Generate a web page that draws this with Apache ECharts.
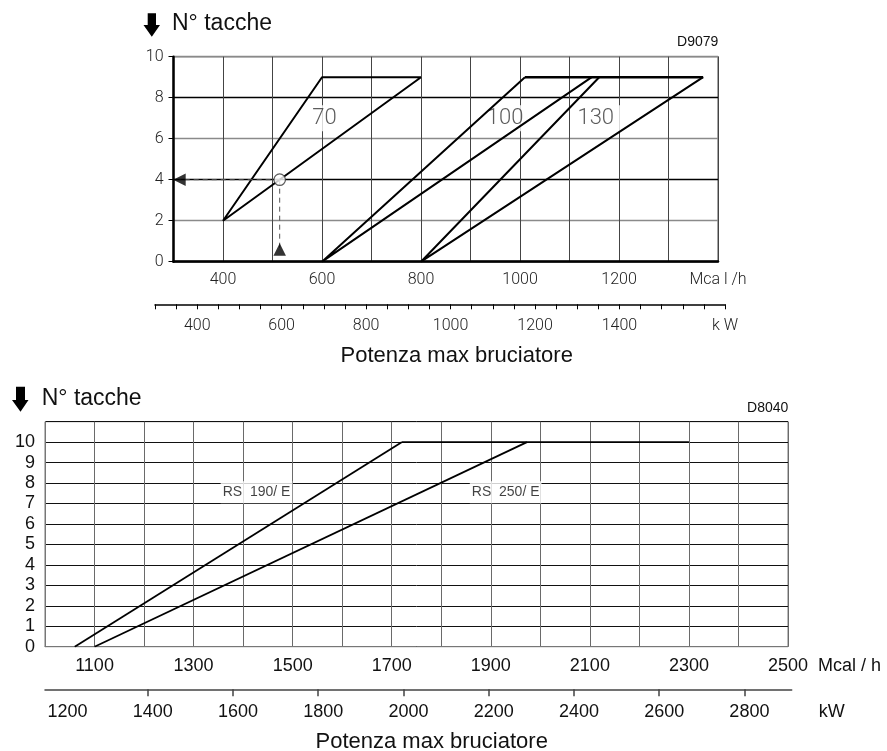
<!DOCTYPE html>
<html>
<head>
<meta charset="utf-8">
<script src="https://cdn.jsdelivr.net/npm/echarts@6/dist/echarts.min.js"></script>
<style>
html,body{margin:0;padding:0;background:#fff;}
#chart{width:887px;height:751px;}
</style>
</head>
<body>
<div id="chart"></div>
<script>
// ---------- data ----------
// top diagram: x = Mcal/h, y = N° tacche
const topCurve70   = [[800, 9], [600, 9], [400, 2], [800, 9]];
const topCurve100  = [[1145, 9], [600, 0], [1010, 9]];
const topCurve130  = [[1160, 9], [800, 0], [1370, 9]];
const topPlateau   = [[1010, 9], [1370, 9]];
const exampleHoriz = [[514.5, 4], [312, 4]];
const exampleVert  = [[514.5, 4], [514.5, 0.6]];
const examplePoint = [514.5, 4];
const exampleArrows = [[312, 4, 90], [514.5, 0.6, 0]];
const topCurveLabels = [['70', 605, 7, 8], ['100', 970, 7, 3], ['130', 1153, 7, 6]];
const topMcalLabels = [400, 600, 800, 1000, 1200];
const topKwLabels = [400, 600, 800, 1000, 1200, 1400];
const topYLabels = [0, 2, 4, 6, 8, 10];

// bottom diagram
const bottomRS190   = [[1060, 0], [1720, 10]];
const bottomRS250   = [[1100, 0], [1973, 10]];
const bottomPlateau = [[1720, 10], [2300, 10]];
const bottomCurveLabels = [['RS  190/ E', 1427, 7.55], ['RS  250/ E', 1930, 7.55]];
const bottomMcalLabels = [1100, 1300, 1500, 1700, 1900, 2100, 2300, 2500];
const bottomKwTicks  = [1400, 1600, 1800, 2000, 2200, 2400, 2600, 2800];
const bottomKwLabels = [1200, 1400, 1600, 1800, 2000, 2200, 2400, 2600, 2800];
const bottomYLabels = [0, 1, 2, 3, 4, 5, 6, 7, 8, 9, 10];

// ---------- chart ----------
const thin = {fontFamily: 'Roboto', fontWeight: 300, color: '#222'};
const arial = {fontFamily: 'Liberation Sans, Arial, sans-serif', color: '#111'};

function lineSeries(data, x, y, width, extra) {
  return Object.assign({
    type: 'line', xAxisIndex: x, yAxisIndex: y, data: data,
    symbol: 'none', silent: true, z: 4,
    lineStyle: {color: '#000', width: width}
  }, extra || {});
}

const chart = echarts.init(document.getElementById('chart'), null, {renderer: 'canvas'});
const option = {
  animation: false,
  backgroundColor: '#fff',
  grid: [
    {left: 173.5, top: 56.7, width: 544.5, height: 205, show: true, borderColor: '#888', borderWidth: 1.5},
    {left: 155, top: 303.3, width: 570, height: 1},
    {left: 45, top: 421.7, width: 743, height: 225, show: true, borderColor: '#777', borderWidth: 1},
    {left: 45, top: 688.3, width: 746.7, height: 1}
  ],
  xAxis: [
    {
      gridIndex: 0, type: 'value', min: 300, max: 1400, interval: 100,
      axisLine: {show: true, onZero: false, lineStyle: {color: '#000', width: 2.5}},
      axisTick: {show: false},
      axisLabel: Object.assign({fontSize: 16, margin: 10,
        formatter: v => v === 1400 ? 'Mca l /h' : (topMcalLabels.includes(v) ? String(v) : '')}, thin),
      splitLine: {show: true, lineStyle: {color: '#444', width: 1}}
    },
    {
      gridIndex: 1, type: 'value', min: 300, max: 1650, interval: 50,
      axisLine: {show: true, onZero: false, lineStyle: {color: '#000', width: 1.5}},
      axisTick: {show: true, length: 5, lineStyle: {color: '#000', width: 1}},
      axisLabel: Object.assign({fontSize: 16, margin: 14,
        formatter: v => v === 1650 ? 'k W' : (topKwLabels.includes(v) ? String(v) : '')}, thin),
      splitLine: {show: false}
    },
    {
      gridIndex: 2, type: 'value', min: 1000, max: 2500, interval: 100,
      axisLine: {show: true, onZero: false, lineStyle: {color: '#777', width: 1}},
      axisTick: {show: false},
      axisLabel: Object.assign({fontSize: 18, margin: 10,
        formatter: v => bottomMcalLabels.includes(v) ? String(v) : ''}, arial),
      splitLine: {show: true, lineStyle: {color: '#6a6a6a', width: 1}},
      name: 'Mcal / h', nameLocation: 'end', nameGap: 30,
      nameTextStyle: Object.assign({fontSize: 18, verticalAlign: 'top', padding: [10, 0, 0, 0]}, arial)
    },
    {
      gridIndex: 3, type: 'value', min: 1159, max: 2911,
      axisLine: {show: true, onZero: false, lineStyle: {color: '#444', width: 1.5}},
      axisTick: {show: true, length: 7, customValues: bottomKwTicks, lineStyle: {color: '#444', width: 1.5}},
      axisLabel: Object.assign({fontSize: 18, margin: 14, customValues: bottomKwLabels,
        padding: [0, 0, 0, 10], formatter: v => String(v)}, arial),
      splitLine: {show: false},
      name: 'kW', nameLocation: 'end', nameGap: 27,
      nameTextStyle: Object.assign({fontSize: 18, verticalAlign: 'top', padding: [14, 0, 0, 0]}, arial)
    }
  ],
  yAxis: [
    {
      gridIndex: 0, type: 'value', min: 0, max: 10, interval: 1,
      axisLine: {show: true, onZero: false, lineStyle: {color: '#000', width: 2.5}},
      axisTick: {show: true, length: 5, customValues: topYLabels, lineStyle: {color: '#000', width: 1}},
      axisLabel: Object.assign({fontSize: 16, margin: 10,
        formatter: v => topYLabels.includes(v) ? String(v) : ''}, thin),
      splitLine: {show: true, lineStyle: {color: ['#000', '#8a8a8a'], width: 1.4}}
    },
    {gridIndex: 1, type: 'value', min: 0, max: 1, show: false},
    {
      gridIndex: 2, type: 'value', min: 0, max: 11, interval: 1,
      axisLine: {show: true, onZero: false, lineStyle: {color: '#777', width: 1}},
      axisTick: {show: false},
      axisLabel: Object.assign({fontSize: 18, margin: 10,
        formatter: v => bottomYLabels.includes(v) ? String(v) : ''}, arial),
      splitLine: {show: true, lineStyle: {color: '#111', width: 1}}
    },
    {gridIndex: 3, type: 'value', min: 0, max: 1, show: false}
  ],
  series: [
    lineSeries(topCurve70, 0, 0, 2),
    lineSeries(topCurve100, 0, 0, 2),
    lineSeries(topCurve130, 0, 0, 2),
    lineSeries(topPlateau, 0, 0, 2.5),
    lineSeries(exampleHoriz, 0, 0, 1, {lineStyle: {color: '#555', width: 1, type: [5, 4]}}),
    lineSeries(exampleVert, 0, 0, 1, {lineStyle: {color: '#555', width: 1, type: [5, 4]}}),
    {
      type: 'scatter', xAxisIndex: 0, yAxisIndex: 0, silent: true, z: 6,
      symbol: 'triangle', symbolSize: [12.5, 12.5],
      itemStyle: {color: '#000'},
      data: exampleArrows.map(a => ({value: [a[0], a[1]], symbolRotate: a[2]}))
    },
    {
      type: 'scatter', xAxisIndex: 0, yAxisIndex: 0, silent: true, z: 6,
      symbol: 'circle', symbolSize: 11.5,
      itemStyle: {color: '#fff', borderColor: '#333', borderWidth: 1.2},
      data: [examplePoint]
    },
    {
      type: 'scatter', xAxisIndex: 0, yAxisIndex: 0, silent: true, z: 3,
      symbolSize: 1, itemStyle: {color: 'rgba(0,0,0,0)'},
      label: Object.assign({show: true, position: 'inside', formatter: '{b}', fontSize: 22,
        backgroundColor: '#fff'}, thin, {color: '#333'}),
      data: topCurveLabels.map(l => ({name: l[0], value: [l[1], l[2]], label: {padding: [2, l[3]]}}))
    },
    lineSeries(bottomRS190, 2, 2, 1.8),
    lineSeries(bottomRS250, 2, 2, 1.8),
    lineSeries(bottomPlateau, 2, 2, 1.8),
    {
      type: 'scatter', xAxisIndex: 2, yAxisIndex: 2, silent: true, z: 3,
      symbolSize: 1, itemStyle: {color: 'rgba(0,0,0,0)'},
      label: Object.assign({show: true, position: 'inside', formatter: '{b}', fontSize: 14,
        backgroundColor: '#fff', padding: [4, 2]}, arial),
      data: bottomCurveLabels.map(l => ({name: l[0], value: [l[1], l[2]]}))
    }
  ],
  graphic: [
    {type: 'polygon', shape: {points: [[147.7,13.3],[156,13.3],[156,25],[160,25],[151.8,36.7],[143.5,25],[147.7,25]]}, style: {fill: '#000'}},
    {type: 'text', x: 172, y: 24, style: {text: 'N° tacche', font: '23px "Liberation Sans", Arial, sans-serif', fill: '#111', textVerticalAlign: 'middle'}},
    {type: 'text', x: 718.3, y: 42, style: {text: 'D9079', font: '14px "Liberation Sans", Arial, sans-serif', fill: '#111', textAlign: 'right', textVerticalAlign: 'middle'}},
    {type: 'text', x: 456.7, y: 356, style: {text: 'Potenza max bruciatore', font: '22px "Liberation Sans", Arial, sans-serif', fill: '#111', textAlign: 'center', textVerticalAlign: 'middle'}},
    {type: 'polygon', shape: {points: [[16,386.7],[25,386.7],[25,400],[28.5,400],[20.5,411.7],[12,400],[16,400]]}, style: {fill: '#000'}},
    {type: 'text', x: 41.7, y: 399, style: {text: 'N° tacche', font: '23px "Liberation Sans", Arial, sans-serif', fill: '#111', textVerticalAlign: 'middle'}},
    {type: 'text', x: 788.3, y: 408, style: {text: 'D8040', font: '14px "Liberation Sans", Arial, sans-serif', fill: '#111', textAlign: 'right', textVerticalAlign: 'middle'}},
    {type: 'text', x: 431.7, y: 742, style: {text: 'Potenza max bruciatore', font: '22px "Liberation Sans", Arial, sans-serif', fill: '#111', textAlign: 'center', textVerticalAlign: 'middle'}}
  ]
};
chart.setOption(option);
</script>
</body>
</html>
